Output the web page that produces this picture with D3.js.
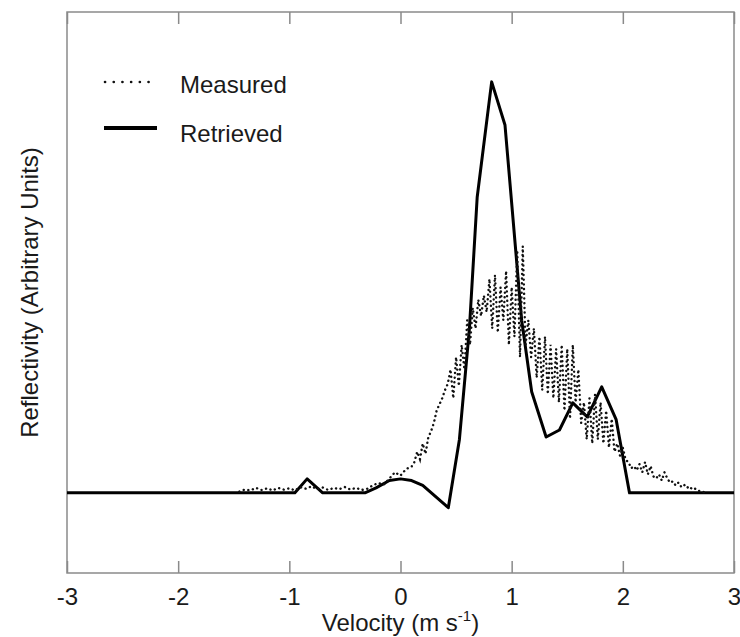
<!DOCTYPE html>
<html>
<head>
<meta charset="utf-8">
<script src="https://cdn.jsdelivr.net/npm/d3@7"></script>
<style>
    body { margin: 0; background: #fff; }
    svg { display: block; }
    text { font-family: "Liberation Sans", Arial, Helvetica, sans-serif; fill: #1a1a1a; }
    .frame, .tick line { stroke: #8a8a8a; }
</style>
</head>
<body>
<svg id="chart" width="740" height="637"></svg>
<script>
// x ticks (velocity, m s-1)
const xTicks = [-3, -2, -1, 0, 1, 2, 3];

// retrieved spectrum (solid line)
const retrievedVelocity = [-3.0, -0.95, -0.84, -0.70, -0.32, -0.22, -0.10, 0.0, 0.10, 0.20, 0.43, 0.53, 0.62, 0.69, 0.82, 0.94, 1.09, 1.18, 1.31, 1.43, 1.55, 1.68, 1.81, 1.94, 2.06, 3.0];
const retrievedValue = [0, 0, 0.034, 0, 0, 0.012, 0.030, 0.034, 0.030, 0.018, -0.036, 0.13, 0.40, 0.72, 1.0, 0.895, 0.42, 0.246, 0.136, 0.153, 0.219, 0.185, 0.258, 0.178, 0, 0];

// measured spectrum (dotted, noisy)
const measuredVelocity = [
    -1.45, -1.40, -1.35, -1.30, -1.25, -1.20, -1.15, -1.10, -1.05, -1.00,
    -0.95, -0.90, -0.85, -0.80, -0.75, -0.70, -0.65, -0.60, -0.55, -0.50,
    -0.45, -0.40, -0.35, -0.30, -0.25, -0.20, -0.15, -0.10, -0.05, 0.00,
    0.05, 0.10, 0.125, 0.15, 0.175, 0.20, 0.225, 0.25, 0.275, 0.30,
    0.325, 0.35, 0.375, 0.40, 0.425, 0.45, 0.475, 0.50, 0.525, 0.55,
    0.575, 0.60, 0.625, 0.65, 0.675, 0.70, 0.725, 0.75, 0.775, 0.80,
    0.825, 0.85, 0.875, 0.90, 0.925, 0.95, 0.975, 1.00, 1.025, 1.05,
    1.075, 1.10, 1.125, 1.15, 1.175, 1.20, 1.225, 1.25, 1.275, 1.30,
    1.325, 1.35, 1.375, 1.40, 1.425, 1.45, 1.475, 1.50, 1.525, 1.55,
    1.575, 1.60, 1.625, 1.65, 1.675, 1.70, 1.725, 1.75, 1.775, 1.80,
    1.825, 1.85, 1.875, 1.90, 1.925, 1.95, 1.975, 2.00, 2.025, 2.05,
    2.075, 2.10, 2.125, 2.15, 2.175, 2.20, 2.225, 2.25, 2.275, 2.30,
    2.325, 2.35, 2.375, 2.40, 2.425, 2.45, 2.475, 2.50, 2.525, 2.55,
    2.575, 2.60, 2.625, 2.65, 2.675, 2.70, 2.75
];
const measuredValue = [
    0.003, 0.008, 0.006, 0.012, 0.007, 0.011, 0.006, 0.012, 0.008, 0.011,
    0.006, 0.014, 0.010, 0.016, 0.009, 0.013, 0.007, 0.012, 0.009, 0.014,
    0.008, 0.012, 0.007, 0.010, 0.018, 0.024, 0.020, 0.035, 0.050, 0.042,
    0.058, 0.064, 0.075, 0.100, 0.082, 0.120, 0.095, 0.135, 0.150, 0.170,
    0.200, 0.215, 0.230, 0.250, 0.265, 0.300, 0.230, 0.330, 0.260, 0.360,
    0.300, 0.420, 0.360, 0.450, 0.400, 0.470, 0.430, 0.480, 0.440, 0.520,
    0.400, 0.530, 0.390, 0.500, 0.420, 0.540, 0.360, 0.500, 0.380, 0.590,
    0.330, 0.600, 0.360, 0.420, 0.330, 0.400, 0.280, 0.380, 0.250, 0.380,
    0.240, 0.360, 0.230, 0.350, 0.220, 0.360, 0.200, 0.350, 0.180, 0.360,
    0.220, 0.300, 0.170, 0.220, 0.130, 0.230, 0.120, 0.240, 0.130, 0.220,
    0.120, 0.200, 0.110, 0.180, 0.100, 0.120, 0.090, 0.110, 0.080, 0.075,
    0.060, 0.065, 0.055, 0.070, 0.050, 0.075, 0.045, 0.065, 0.040, 0.035,
    0.045, 0.030, 0.050, 0.035, 0.025, 0.028, 0.018, 0.025, 0.015, 0.020,
    0.012, 0.016, 0.008, 0.010, 0.005, 0.004, 0.000
];

const legendLabels = ["Measured", "Retrieved"];

let svg = d3.select("#chart");
let margin = { left: 67, top: 12, right: 6, bottom: 64 };
let width = +svg.attr("width") - margin.left - margin.right;
let height = +svg.attr("height") - margin.top - margin.bottom;
let fontSize = 24;

let x = d3.scaleLinear().domain([-3, 3]).range([0, width]);
let y = d3.scaleLinear().domain([-0.195, 1.17]).range([height, 0]);

let g = svg.append("g")
    .attr("transform", "translate(" + margin.left + "," + margin.top + ")");

// bottom axis with inward ticks, plain hyphen for negatives
let xAxis = g.append("g")
    .attr("transform", "translate(0," + height + ")")
    .call(d3.axisBottom(x).tickValues(xTicks).tickSizeInner(-12).tickSizeOuter(0).tickPadding(15).tickFormat(d => String(d)));
xAxis.select(".domain").remove();
xAxis.selectAll("text").style("font-size", fontSize + "px").style("fill", "#1a1a1a");
xAxis.selectAll(".tick line").attr("stroke-width", 1.5);

// top axis, ticks only
let topAxis = g.append("g")
    .call(d3.axisTop(x).tickValues(xTicks).tickSizeInner(-12).tickSizeOuter(0).tickFormat(""));
topAxis.select(".domain").remove();
topAxis.selectAll(".tick line").attr("stroke-width", 1.5);

g.append("rect")
    .attr("class", "frame")
    .attr("width", width)
    .attr("height", height)
    .attr("fill", "none")
    .attr("stroke-width", 1.5);

let retrieved = retrievedVelocity.map((v, i) => [v, retrievedValue[i]]);
let measured = measuredVelocity.map((v, i) => [v, measuredValue[i]]);

let line = d3.line()
    .x(d => x(d[0]))
    .y(d => y(d[1]));

g.append("path")
    .datum(retrieved)
    .attr("d", line)
    .attr("fill", "none")
    .attr("stroke", "#000")
    .attr("stroke-width", 3)
    .attr("stroke-linejoin", "round");

g.append("path")
    .datum(measured)
    .attr("d", line)
    .attr("fill", "none")
    .attr("stroke", "#111")
    .attr("stroke-width", 2.4)
    .attr("stroke-linecap", "round")
    .attr("stroke-dasharray", "0.1,4.6");

// legend
let legend = svg.append("g");
legend.append("line")
    .attr("x1", 105).attr("x2", 157).attr("y1", 82).attr("y2", 82)
    .attr("stroke", "#111").attr("stroke-width", 2.6)
    .attr("stroke-linecap", "round").attr("stroke-dasharray", "0.1,8.6");
legend.append("line")
    .attr("x1", 104).attr("x2", 157).attr("y1", 128).attr("y2", 128)
    .attr("stroke", "#000").attr("stroke-width", 4);
legend.selectAll("text")
    .data(legendLabels)
    .enter()
    .append("text")
    .attr("x", 180)
    .attr("y", (d, i) => 93 + i * 49)
    .style("font-size", fontSize + "px")
    .text(d => d);

// axis titles
let xTitle = svg.append("text")
    .attr("x", margin.left + width / 2)
    .attr("y", 631)
    .attr("text-anchor", "middle")
    .style("font-size", fontSize + "px");
xTitle.append("tspan").text("Velocity (m s");
xTitle.append("tspan").attr("dy", -10).style("font-size", "15px").text("-1");
xTitle.append("tspan").attr("dy", 10).text(")");

svg.append("text")
    .attr("transform", "translate(38," + (margin.top + height / 2) + ") rotate(-90)")
    .attr("text-anchor", "middle")
    .style("font-size", fontSize + "px")
    .text("Reflectivity (Arbitrary Units)");
</script>
</body>
</html>
